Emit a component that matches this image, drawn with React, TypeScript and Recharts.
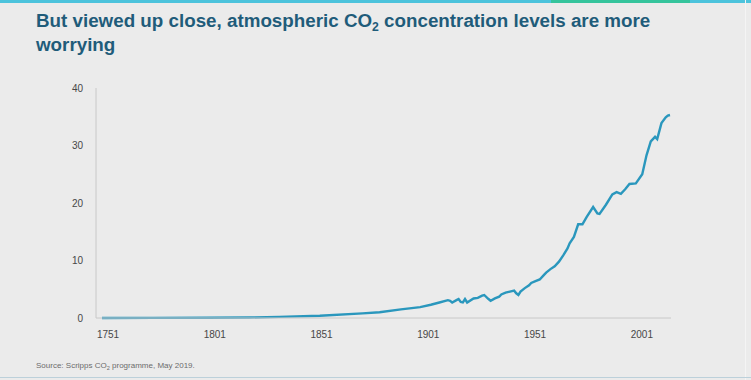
import React from "react";
import { LineChart, Line, XAxis, YAxis } from "recharts";

// global CO2
const years = [
  1751, 1775, 1800, 1820, 1834, 1853, 1873, 1881, 1891, 1900, 1905, 1909, 1913, 1914, 1915, 1917,
  1918, 1919, 1920, 1921, 1922, 1925, 1927, 1929, 1930, 1932, 1933, 1935, 1937, 1938, 1940, 1942,
  1944, 1945, 1946, 1947, 1949, 1951, 1952, 1954, 1956, 1958, 1959, 1961, 1963, 1965, 1967, 1969,
  1970, 1972, 1974, 1976, 1978, 1981, 1983, 1984, 1987, 1990, 1992, 1994, 1996, 1998, 2001, 2004,
  2006, 2008, 2010, 2011, 2013, 2015, 2016, 2017,
];
const co2 = [
  0.01, 0.02, 0.04, 0.08, 0.2, 0.4, 0.8, 1.0, 1.5, 1.9, 2.3, 2.7, 3.1, 3.0, 2.7, 3.1,
  3.3, 2.8, 2.7, 3.3, 2.7, 3.4, 3.5, 3.9, 4.0, 3.3, 3.0, 3.4, 3.7, 4.1, 4.4, 4.6,
  4.75, 4.3, 4.0, 4.6, 5.2, 5.7, 6.1, 6.4, 6.7, 7.5, 7.9, 8.5, 9.0, 9.8, 10.9, 12.1,
  13.0, 14.1, 16.3, 16.3, 17.6, 19.3, 18.2, 18.1, 19.7, 21.5, 21.9, 21.6, 22.4, 23.3, 23.4, 25.0,
  28.3, 30.7, 31.5, 31.1, 33.9, 34.9, 35.2, 35.3,
];
const xTicks = [1751, 1801, 1851, 1901, 1951, 2001];
const yTicks = [0, 10, 20, 30, 40];

const data = years.map((year, i) => ({ year, value: co2[i] }));

const font = "'Liberation Sans', Arial, sans-serif";

export default function App() {
  return (
    <div
      style={{
        position: "absolute",
        left: 0,
        top: 0,
        width: 751,
        height: 380,
        background: "#ebebeb",
        fontFamily: font,
        overflow: "hidden",
      }}
    >
      <div style={{ position: "absolute", left: 0, top: 0, width: 751, height: 3, background: "#4cc3dc" }} />
      <div style={{ position: "absolute", left: 551, top: 0, width: 139, height: 3, background: "#35c49c" }} />
      <div style={{ position: "absolute", left: 745, top: 0, width: 1, height: 380, background: "#f4f4f4" }} />
      <div style={{ position: "absolute", left: 0, top: 377, width: 751, height: 1, background: "#bcd0da" }} />

      <div
        style={{
          position: "absolute",
          left: 36,
          top: 10,
          fontSize: 18.8,
          lineHeight: "21px",
          fontWeight: "bold",
          color: "#1f5c7a",
          whiteSpace: "nowrap",
        }}
      >
        <div>
          <span>But viewed up close, atmospheric CO</span>
          <span style={{ fontSize: "0.65em", position: "relative", top: "0.3em" }}>2</span>
          <span> concentration levels are more</span>
        </div>
        <div>worrying</div>
      </div>

      <div style={{ position: "absolute", left: 36, top: 361, fontSize: 8, color: "#6b6b6b", whiteSpace: "nowrap" }}>
        <span>Source: Scripps CO</span>
        <span style={{ fontSize: "0.7em", position: "relative", top: "0.3em" }}>2</span>
        <span> programme, May 2019.</span>
      </div>

      <div style={{ position: "absolute", left: 0, top: 0 }}>
        <LineChart width={751} height={380} data={data} margin={{ top: 88, right: 80, bottom: 32, left: 36 }}>
          <XAxis
            dataKey="year"
            type="number"
            domain={[1751, 2017]}
            ticks={xTicks}
            padding={{ left: 6, right: 1 }}
            tickLine={false}
            tickMargin={7}
            axisLine={{ stroke: "#c8c8c8" }}
            tick={{ fill: "#474747", fontSize: 10, fontFamily: font, dx: 6 }}
            height={30}
            interval={0}
          />
          <YAxis
            domain={[0, 40]}
            ticks={yTicks}
            tickLine={false}
            tickMargin={7}
            axisLine={{ stroke: "#c8c8c8" }}
            tick={{ fill: "#474747", fontSize: 10, fontFamily: font }}
            width={60}
          />
          <Line
            type="linear"
            dataKey="value"
            stroke="#2a97bd"
            strokeWidth={2.4}
            dot={false}
            isAnimationActive={false}
          />
        </LineChart>
      </div>
    </div>
  );
}
